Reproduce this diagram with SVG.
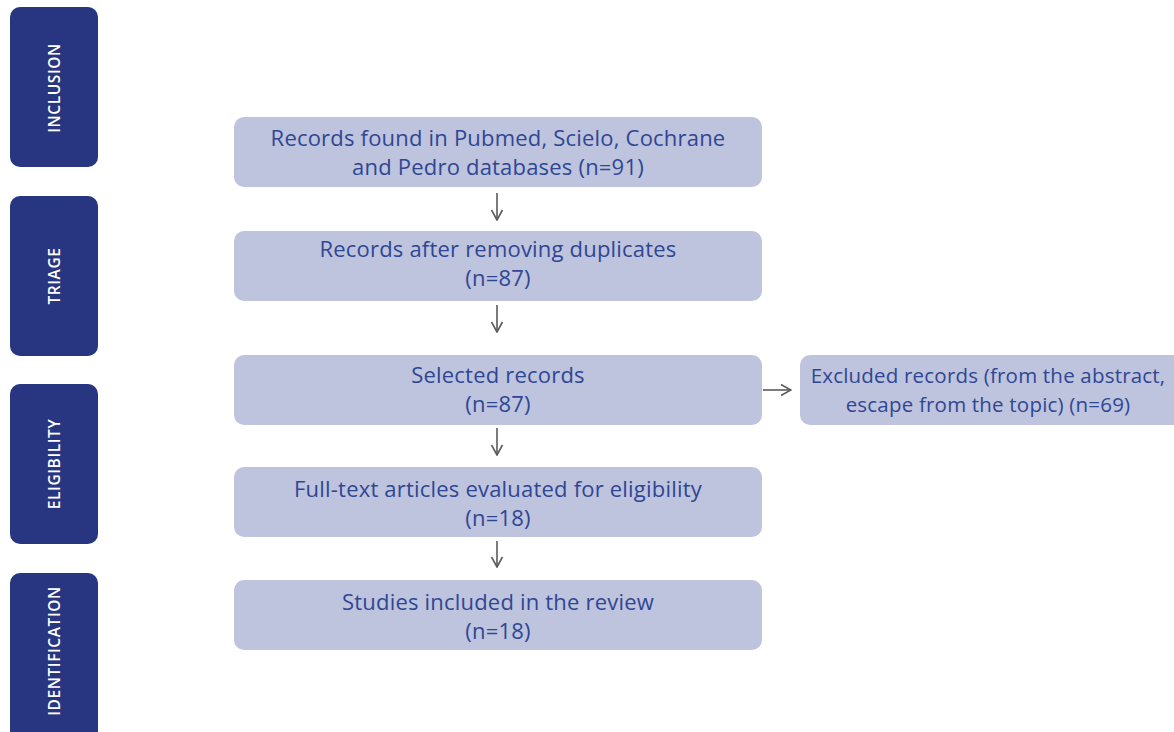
<svg xmlns="http://www.w3.org/2000/svg" width="1174" height="732" viewBox="0 0 1174 732">
<style>
.side{fill:#283580}
.sidet{fill:#ffffff;font-family:"Open Sans","Noto Sans",sans-serif;font-size:15.5px;font-weight:600;text-anchor:middle;letter-spacing:0.6px}
.box{fill:#bec3de}
.t{fill:#2f4793;font-family:"Open Sans","Noto Sans",sans-serif;font-size:22px;text-anchor:middle;letter-spacing:0.2px}
.ts{font-size:20.5px}
.c{stroke:#5a5a5a;stroke-width:1.6;fill:none}
</style>
<defs>
<marker id="ah" viewBox="0 0 12 12" refX="11" refY="6" markerWidth="12" markerHeight="12" markerUnits="userSpaceOnUse" orient="auto">
<path d="M1,0.5 L11,6 L1,11.5" fill="none" stroke="#5a5a5a" stroke-width="1.6"/>
</marker>
</defs>
<g id="inclusion"><rect class="side" x="10" y="7" width="88" height="160" rx="10"/><text class="sidet" transform="translate(60,88) rotate(-90)">INCLUSION</text></g>
<g id="triage"><rect class="side" x="10" y="196" width="88" height="160" rx="10"/><text class="sidet" transform="translate(60,276) rotate(-90)">TRIAGE</text></g>
<g id="eligibility"><rect class="side" x="10" y="384" width="88" height="160" rx="10"/><text class="sidet" transform="translate(60,464) rotate(-90)">ELIGIBILITY</text></g>
<g id="identification"><rect class="side" x="10" y="573" width="88" height="170" rx="10"/><text class="sidet" transform="translate(60,651) rotate(-90)">IDENTIFICATION</text></g>
<g id="n1"><rect class="box" x="234" y="117" width="528" height="70" rx="10"/><text class="t" x="498" y="146">Records found in Pubmed, Scielo, Cochrane</text><text class="t" x="498" y="175">and Pedro databases (n=91)</text></g>
<g id="n2"><rect class="box" x="234" y="231" width="528" height="70" rx="10"/><text class="t" x="498" y="257">Records after removing duplicates</text><text class="t" x="498" y="286">(n=87)</text></g>
<g id="n3"><rect class="box" x="234" y="355" width="528" height="70" rx="10"/><text class="t" x="498" y="383">Selected records</text><text class="t" x="498" y="412">(n=87)</text></g>
<g id="n4"><rect class="box" x="234" y="467" width="528" height="70" rx="10"/><text class="t" x="498" y="497">Full-text articles evaluated for eligibility</text><text class="t" x="498" y="526">(n=18)</text></g>
<g id="n5"><rect class="box" x="234" y="580" width="528" height="70" rx="10"/><text class="t" x="498" y="610">Studies included in the review</text><text class="t" x="498" y="639">(n=18)</text></g>
<g id="excluded"><rect class="box" x="800" y="355" width="384" height="70" rx="10"/><text class="t ts" x="988" y="383">Excluded records (from the abstract,</text><text class="t ts" x="988" y="412">escape from the topic) (n=69)</text></g>
<g id="connectors">
<line class="c" x1="497" y1="193" x2="497" y2="220" marker-end="url(#ah)"/>
<line class="c" x1="497" y1="305" x2="497" y2="332" marker-end="url(#ah)"/>
<line class="c" x1="497" y1="428" x2="497" y2="455" marker-end="url(#ah)"/>
<line class="c" x1="497" y1="541" x2="497" y2="567" marker-end="url(#ah)"/>
<line class="c" x1="763" y1="390" x2="791" y2="390" marker-end="url(#ah)"/>
</g>
</svg>
